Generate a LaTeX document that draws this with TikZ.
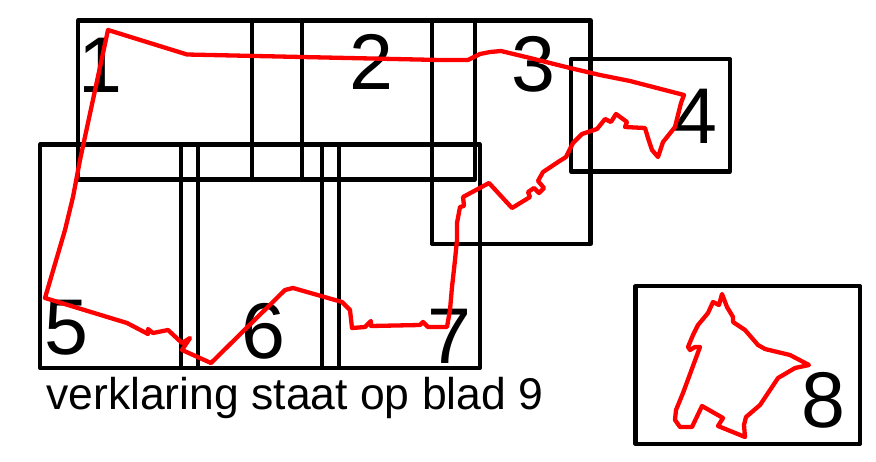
\documentclass[tikz,border=0pt]{standalone}
\usepackage{fontspec}
\setmainfont{Liberation Sans}
\tikzset{
  sheet/.style={draw=black,line width=4.1pt,line join=round},
  trace/.style={draw=red,line width=4.3pt,line join=round,line cap=round},
  num/.style={font=\fontsize{79}{79}\selectfont,text=black,inner sep=0pt,anchor=base},
  caption/.style={font=\fontsize{44.5}{45}\selectfont,text=black,inner sep=0pt,anchor=base west}
}
\begin{document}
\begin{tikzpicture}[x=1pt,y=-1pt]
\useasboundingbox (0,0) rectangle (876,461);
\fill[white] (0,0) rectangle (876,461);
% sheets
\draw[sheet] (78,20.5) rectangle (302,179.5);
\draw[sheet] (252,20.5) rectangle (475,179.5);
\draw[sheet] (432,20.5) rectangle (590.5,244);
\draw[sheet] (571,59) rectangle (730,171.5);
\draw[sheet] (40,144.5) rectangle (198,368);
\draw[sheet] (181,144.5) rectangle (339,368);
\draw[sheet] (322,144.5) rectangle (480,368);
\draw[sheet] (635.5,286) rectangle (860,444);
% labels
\node[num] (n1) at (100,92) {1};
\node[num] (n2) at (371,89) {2};
\node[num] (n3) at (533,91) {3};
\node[num] (n4) at (695,143) {4};
\node[num] (n5) at (66,354) {5};
\node[num] (n6) at (263,358) {6};
\node[num] (n7) at (449,363) {7};
\node[num] (n8) at (823,427) {8};
\node[caption] (cap) at (46,409) {verklaring staat op blad 9};
% main outline
\draw[trace] (108,30) -- (187,54.5) -- (440,60) -- (468,60) -- (480,54) -- (490,52) -- (501,51)
 -- (530,58) -- (570,68) -- (600,75) -- (630,81) -- (657,88) -- (684,95) -- (681,103) -- (675,127)
 -- (663,142) -- (658,157) -- (652,150) -- (648,138) -- (645,128) -- (625,127) -- (627,122)
 -- (616,114) -- (611,122) -- (605,119) -- (597,129) -- (582,134) -- (573,143) -- (566,157)
 -- (558,162) -- (543,172) -- (538,181) -- (544,188) -- (539,193) -- (534,188) -- (528,192)
 -- (530,197) -- (512,208) -- (489,183) -- (463,197) -- (464,206) -- (460,207) -- (457,223)
 -- (457,240) -- (455,260) -- (452,287) -- (450,310) -- (447,327) -- (428,327) -- (423,322)
 -- (420,325) -- (371,326) -- (371,321) -- (365,327) -- (352,328) -- (350,310) -- (342,302)
 -- (293,288) -- (285,290) -- (211,363) -- (182,350) -- (190,338) -- (182,343) -- (168,330)
 -- (153,333) -- (148,329) -- (148,334) -- (127,323) -- (45,298) -- (65,230) -- (73,197)
 -- (80,160) -- cycle;
% sheet 8 outline
\draw[trace] (722,294) -- (727,307) -- (733,317) -- (733,322) -- (745,330) -- (758,345) -- (765,349)
 -- (790,355) -- (809,365) -- (795,368) -- (778,378) -- (768,393) -- (760,405) -- (746,417)
 -- (744,425) -- (745,437) -- (718,426) -- (723,418) -- (702,406) -- (692,427) -- (680,427)
 -- (675,420) -- (676,410) -- (683,393) -- (700,347) -- (695,347) -- (690,350) -- (688,347)
 -- (693,335) -- (698,325) -- (708,313) -- (713,302) -- (719,305) -- cycle;
\end{tikzpicture}
\end{document}
